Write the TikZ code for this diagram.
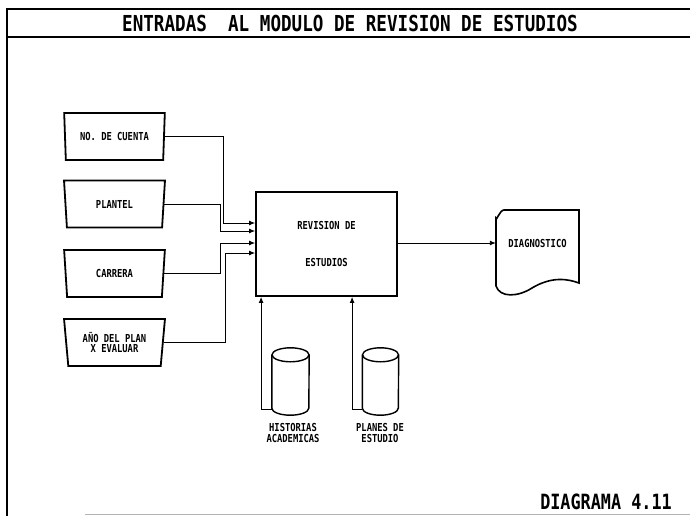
\documentclass[tikz,border=0pt]{standalone}
\usepackage{fontspec}
\newfontfamily\pixfont[FakeStretch=0.8]{DejaVu Sans Mono}
\usetikzlibrary{arrows.meta,shapes.geometric,calc}
\begin{document}
\begin{tikzpicture}[x=1pt,y=-1pt,
  frame/.style={line width=2.4pt},
  lbl/.style={inner sep=0pt, align=center, font=\pixfont\bfseries\fontsize{11}{10.5}\selectfont},
  inbox/.style={lbl, trapezium, trapezium stretches=true, shape border rotate=180,
    trapezium angle=82, minimum width=101pt, minimum height=47pt, draw, line width=1.8pt},
  mainbox/.style={lbl, draw, line width=1.8pt, minimum width=141pt, minimum height=104pt},
  shapeline/.style={line width=1.6pt},
  cylline/.style={line width=1.4pt},
  arr/.style={line width=0.9pt, -{Latex[length=6pt,width=5pt]}}]
\useasboundingbox (0,0) rectangle (690,516);
% frame
\draw[frame] (7,516) -- (7,9) -- (690,9);
\draw[frame] (7,37) -- (690,37);
\draw[line width=0.7pt, gray!60] (85,514) -- (690,514);
\node[inner sep=0pt, font=\pixfont\bfseries\fontsize{22}{22}\selectfont] (title) at (350,23)
  {ENTRADAS\ \ AL MODULO DE REVISION DE ESTUDIOS};
% inputs
\node[inbox] (n1) at (114.5,136.5) {NO. DE CUENTA};
\node[inbox] (n2) at (114.5,204) {PLANTEL};
\node[inbox] (n3) at (114.5,273.5) {CARRERA};
\node[inbox] (n4) at (114.5,342.5) {AÑO DEL PLAN\\X EVALUAR};
% main process
\node[mainbox] (main) at (326.5,244) {REVISION DE\\[27pt]ESTUDIOS};
\draw[arr] (n1.east) -| ([xshift=-32pt,yshift=21pt]main.west) -- ([yshift=21pt]main.west);
\draw[arr] (n2.east) -| ([xshift=-35pt,yshift=13pt]main.west) -- ([yshift=13pt]main.west);
\draw[arr] (n3.east) -| ([xshift=-35pt,yshift=1pt]main.west) -- ([yshift=1pt]main.west);
\draw[arr] (n4.east) -| ([xshift=-30pt,yshift=-9pt]main.west) -- ([yshift=-9pt]main.west);
% output document
\node[lbl, minimum width=83pt, minimum height=20pt] (diag) at (537.5,243) {DIAGNOSTICO};
\draw[shapeline] (496,286) -- (496,218) to[out=-90,in=180] (504,210) -- (579,210) -- (579,283)
  .. controls (568,279) and (552,276) .. (532,288)
  .. controls (518,297) and (500,298) .. (496,286) -- cycle;
\draw[arr] (main.east |- diag.west) -- (diag.west);
% data stores
\node[inner sep=0pt, minimum width=37pt, minimum height=67pt] (c1) at (290.5,381.5) {};
\node[inner sep=0pt, minimum width=36pt, minimum height=67pt] (c2) at (380.5,381.5) {};
\draw[cylline] ($(c1.north)+(0,7)$) ellipse[x radius=18.5pt, y radius=7pt];
\draw[cylline] ($(c1.north west)+(0,7)$) -- ($(c1.south west)+(0,-7)$)
  arc[start angle=180, end angle=360, x radius=18.5pt, y radius=7pt] -- ($(c1.north east)+(0,7)$);
\draw[cylline] ($(c2.north)+(0,7)$) ellipse[x radius=18pt, y radius=7pt];
\draw[cylline] ($(c2.north west)+(0,7)$) -- ($(c2.south west)+(0,-7)$)
  arc[start angle=180, end angle=360, x radius=18pt, y radius=7pt] -- ($(c2.north east)+(0,7)$);
\node[lbl] (h1) at (293,433) {HISTORIAS\\ACADEMICAS};
\node[lbl] (h2) at (380,433) {PLANES DE\\ESTUDIO};
\draw[arr] ([yshift=6pt]c1.south west) -| ([xshift=6pt]main.south west);
\draw[arr] ([yshift=6pt]c2.south west) -| ([xshift=97pt]main.south west);
% caption
\node[inner sep=0pt, font=\pixfont\bfseries\fontsize{21}{21}\selectfont] (cap) at (606,502) {DIAGRAMA 4.11};
\end{tikzpicture}
\end{document}
